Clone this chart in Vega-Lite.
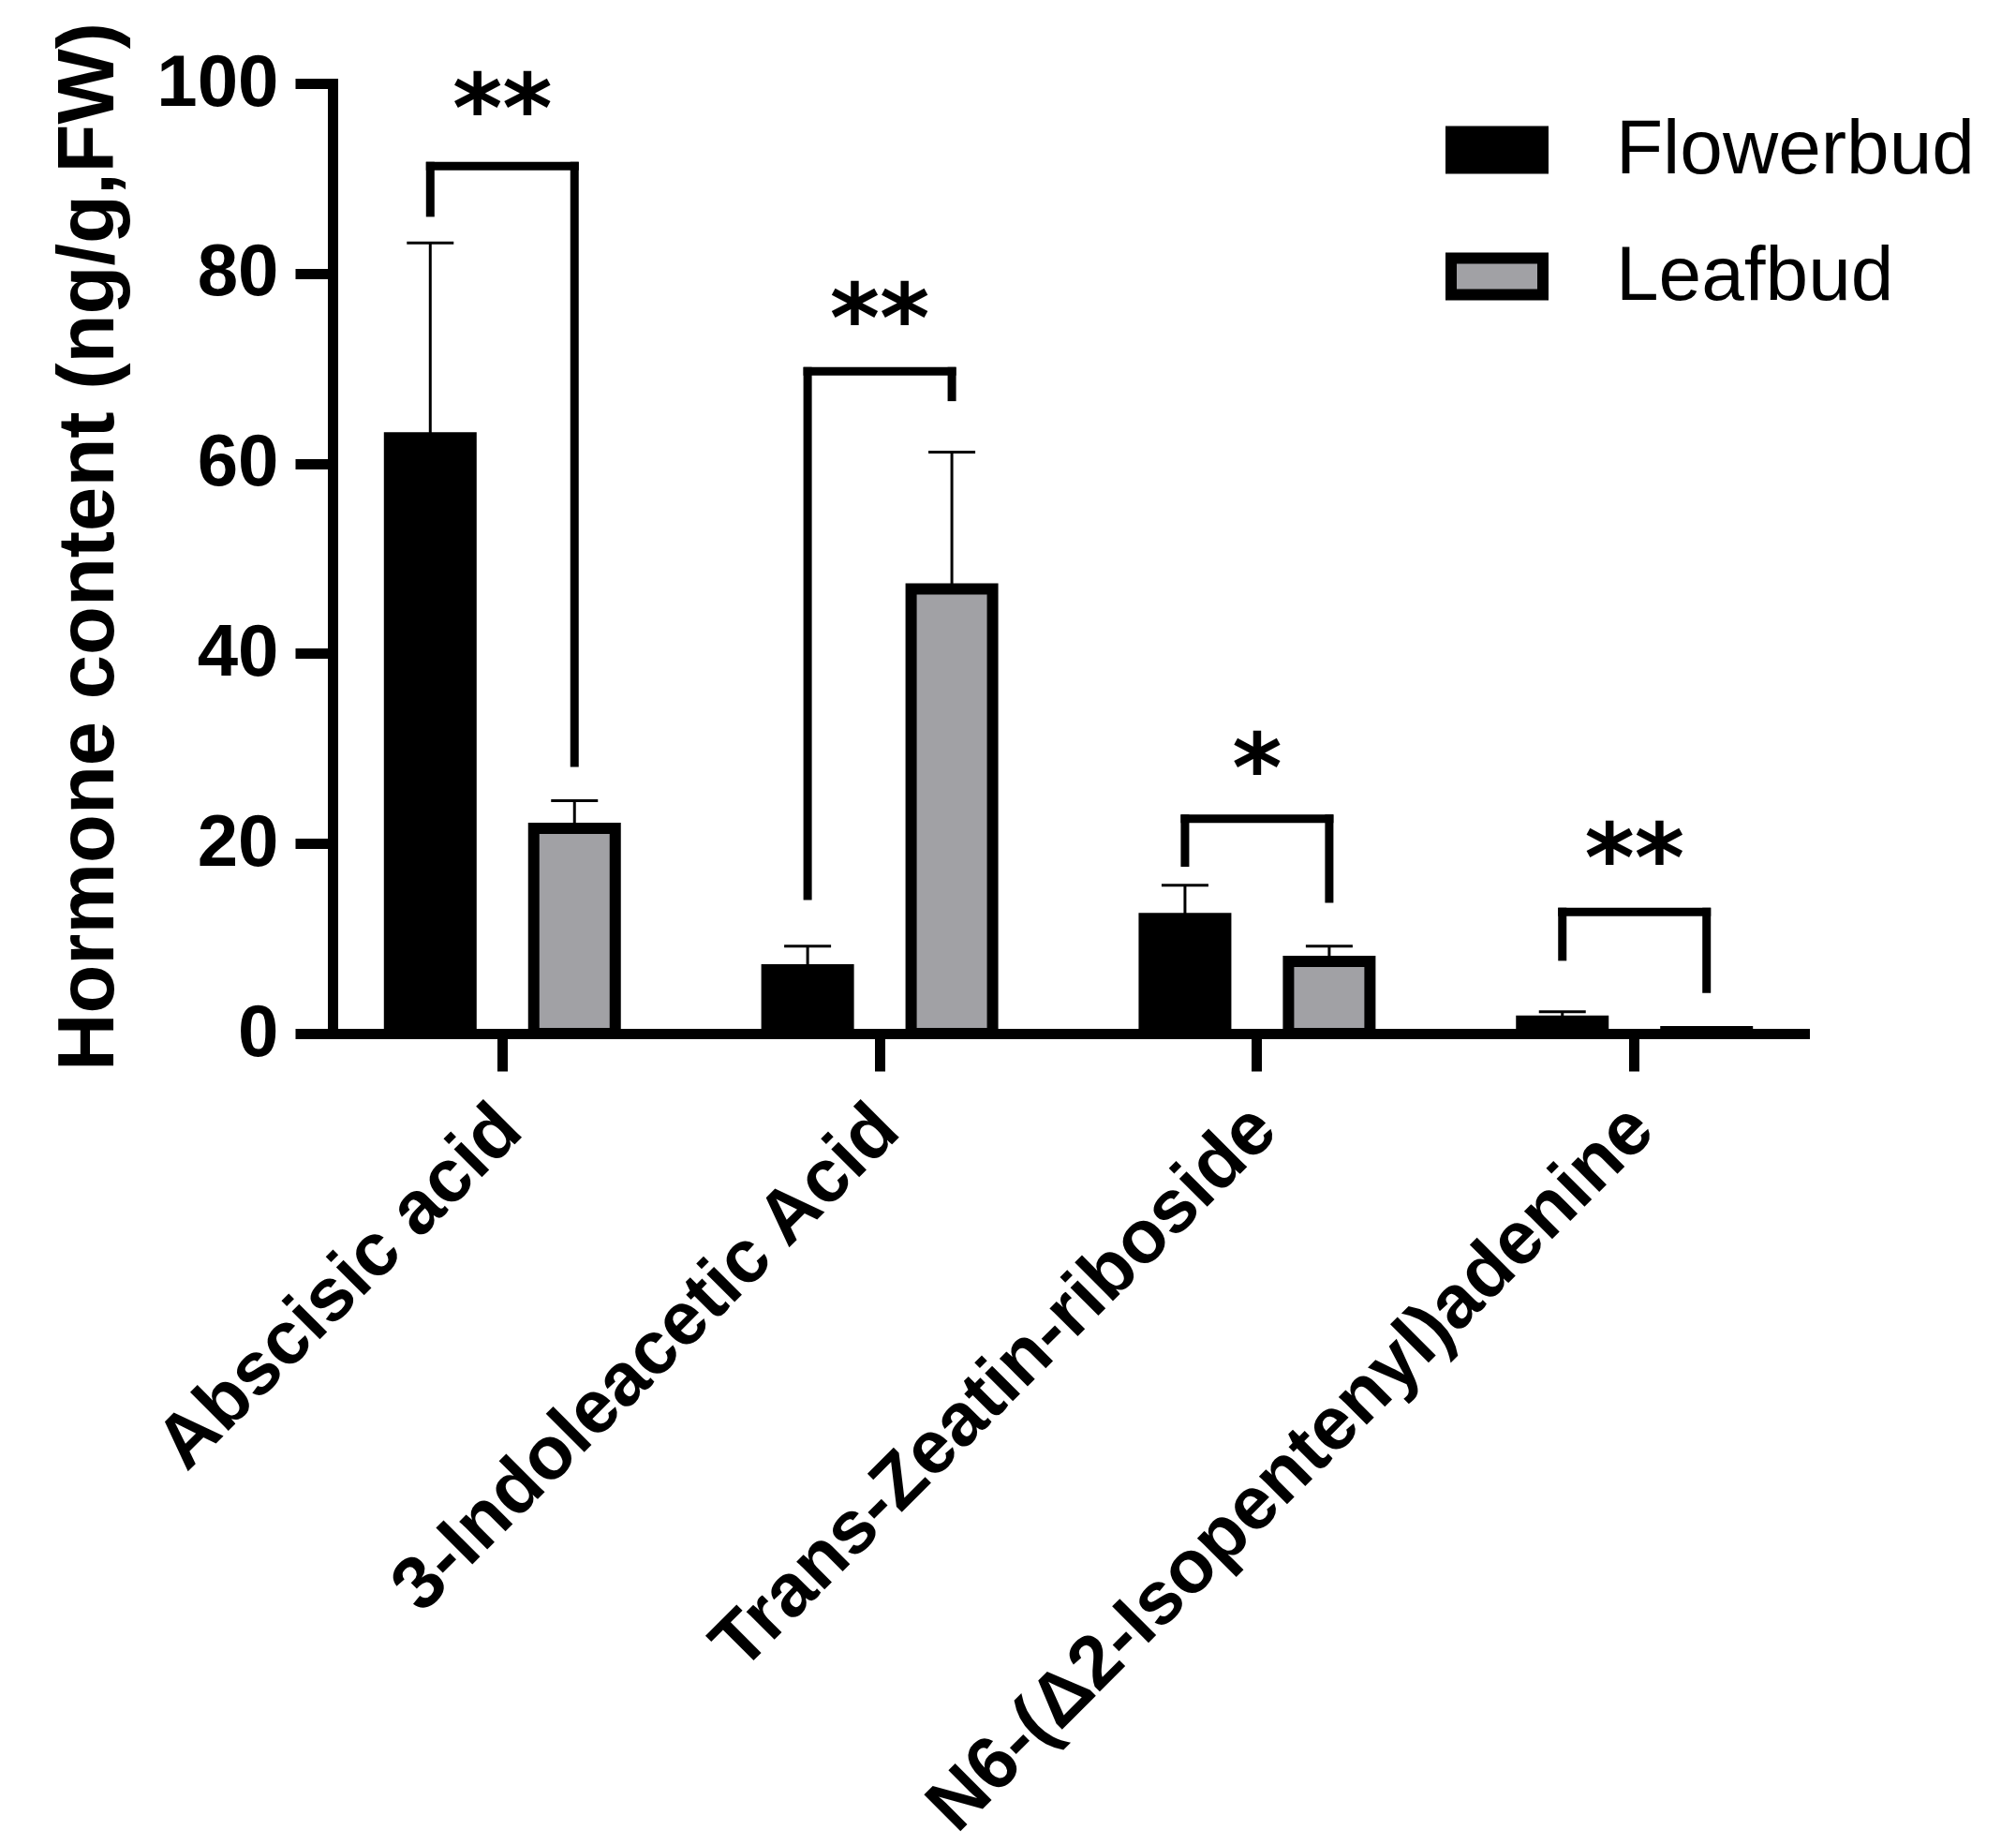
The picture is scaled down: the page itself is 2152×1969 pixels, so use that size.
{
  "$schema": "https://vega.github.io/schema/vega-lite/v6.json",
  "width": 1571,
  "height": 1014,
  "autosize": {"type": "none"},
  "padding": {"left": 355, "top": 89, "right": 226, "bottom": 866},
  "background": "white",
  "config": {
    "view": {"stroke": null},
    "font": "Liberation Sans",
    "axis": {
      "domainColor": "black",
      "domainWidth": 11,
      "domainCap": "square",
      "tickColor": "black",
      "tickWidth": 11,
      "tickSize": 40,
      "labelColor": "black",
      "labelFont": "Liberation Sans",
      "labelFontWeight": "bold",
      "titleColor": "black",
      "titleFont": "Liberation Sans",
      "titleFontWeight": "bold",
      "grid": false
    }
  },
  "datasets": {
    "bars": [
      {"hormone": "Abscisic acid", "group": "Flowerbud", "value": 62.7, "sd_top": 83.2},
      {"hormone": "Abscisic acid", "group": "Leafbud", "value": 21.6, "sd_top": 24.5},
      {"hormone": "3-Indoleacetic Acid", "group": "Flowerbud", "value": 6.7, "sd_top": 9.2},
      {"hormone": "3-Indoleacetic Acid", "group": "Leafbud", "value": 46.8, "sd_top": 61.2},
      {"hormone": "Trans-Zeatin-riboside", "group": "Flowerbud", "value": 12.1, "sd_top": 15.6},
      {"hormone": "Trans-Zeatin-riboside", "group": "Leafbud", "value": 7.6, "sd_top": 9.2},
      {"hormone": "N6-(Δ2-Isopentenyl)adenine", "group": "Flowerbud", "value": 1.3, "sd_top": 2.3},
      {"hormone": "N6-(Δ2-Isopentenyl)adenine", "group": "Leafbud", "value": 0.2, "sd_top": 0.5}
    ],
    "legs": [
      {"hormone": "Abscisic acid", "group": "Flowerbud", "y1": 86.4, "y2": 91.3},
      {"hormone": "Abscisic acid", "group": "Leafbud", "y1": 28.5, "y2": 91.3},
      {"hormone": "3-Indoleacetic Acid", "group": "Flowerbud", "y1": 14.5, "y2": 69.7},
      {"hormone": "3-Indoleacetic Acid", "group": "Leafbud", "y1": 67.0, "y2": 69.7},
      {"hormone": "Trans-Zeatin-riboside", "group": "Flowerbud", "y1": 18.0, "y2": 22.6},
      {"hormone": "Trans-Zeatin-riboside", "group": "Leafbud", "y1": 14.2, "y2": 22.6},
      {"hormone": "N6-(Δ2-Isopentenyl)adenine", "group": "Flowerbud", "y1": 8.1, "y2": 12.8},
      {"hormone": "N6-(Δ2-Isopentenyl)adenine", "group": "Leafbud", "y1": 4.7, "y2": 12.8}
    ],
    "tops": [
      {"hormone": "Abscisic acid", "top": 91.3, "label": "**", "star": 98.4},
      {"hormone": "3-Indoleacetic Acid", "top": 69.7, "label": "**", "star": 76.3},
      {"hormone": "Trans-Zeatin-riboside", "top": 22.6, "label": "*", "star": 29.0},
      {"hormone": "N6-(Δ2-Isopentenyl)adenine", "top": 12.8, "label": "**", "star": 19.5}
    ]
  },
  "encoding": {
    "x": {
      "field": "hormone",
      "type": "nominal",
      "sort": ["Abscisic acid", "3-Indoleacetic Acid", "Trans-Zeatin-riboside", "N6-(Δ2-Isopentenyl)adenine"],
      "scale": {"paddingInner": 0.2, "paddingOuter": 0.05},
      "axis": {
        "title": null,
        "labelAngle": -45,
        "labelFontSize": 80,
        "labelPadding": 22,
        "labelOffset": -20,
        "labelLimit": 0,
        "labelOverlap": false
      }
    }
  },
  "layer": [
    {
      "data": {"name": "bars"},
      "mark": {"type": "rule", "color": "black", "strokeWidth": 3},
      "encoding": {
        "xOffset": {"field": "group", "type": "nominal", "scale": {"paddingInner": 0.435, "paddingOuter": 0.264}},
        "y": {"field": "value", "type": "quantitative"},
        "y2": {"field": "sd_top"}
      }
    },
    {
      "data": {"name": "bars"},
      "mark": {"type": "tick", "color": "black", "opacity": 1, "size": 50, "thickness": 3, "orient": "horizontal"},
      "encoding": {
        "xOffset": {"field": "group", "type": "nominal"},
        "y": {"field": "sd_top", "type": "quantitative"}
      }
    },
    {
      "data": {"name": "bars"},
      "mark": {"type": "bar", "stroke": "black", "strokeWidth": 12, "strokeJoin": "miter", "opacity": 1},
      "encoding": {
        "xOffset": {"field": "group", "type": "nominal"},
        "y": {
          "field": "value",
          "type": "quantitative",
          "scale": {"domain": [0, 100], "nice": false},
          "axis": {
            "values": [0, 20, 40, 60, 80, 100],
            "labelFontSize": 78,
            "labelPadding": 18,
            "title": "Hormone content (ng/g,FW)",
            "titleFontSize": 85,
            "titlePadding": 28,
            "titleY": 494,
            "titleLimit": 0
          }
        },
        "color": {
          "field": "group",
          "type": "nominal",
          "scale": {"domain": ["Flowerbud", "Leafbud"], "range": ["#000000", "#a1a1a5"]},
          "legend": {
            "title": null,
            "orient": "none",
            "legendX": 1188,
            "legendY": 16,
            "padding": 0,
            "symbolType": "M-1,-0.4H1V0.4H-1Z",
            "symbolSize": 9604,
            "symbolStrokeColor": "black",
            "symbolStrokeWidth": 12,
            "symbolOpacity": 1,
            "labelFont": "Liberation Sans",
            "labelFontSize": 82,
            "labelColor": "black",
            "labelOffset": 72,
            "labelLimit": 0,
            "rowPadding": 36
          }
        }
      }
    },
    {
      "data": {"name": "legs"},
      "mark": {"type": "rule", "color": "black", "strokeWidth": 9, "strokeCap": "square"},
      "encoding": {
        "xOffset": {"field": "group", "type": "nominal"},
        "y": {"field": "y1", "type": "quantitative"},
        "y2": {"field": "y2"}
      }
    },
    {
      "data": {"name": "tops"},
      "mark": {"type": "tick", "color": "black", "opacity": 1, "size": 163, "thickness": 9, "orient": "horizontal"},
      "encoding": {
        "y": {"field": "top", "type": "quantitative"}
      }
    },
    {
      "data": {"name": "tops"},
      "mark": {"type": "text", "font": "DejaVu Sans", "fontWeight": "bold", "fontSize": 102, "baseline": "alphabetic", "align": "center", "dy": 46, "color": "black"},
      "encoding": {
        "y": {"field": "star", "type": "quantitative"},
        "text": {"field": "label"}
      }
    }
  ]
}
